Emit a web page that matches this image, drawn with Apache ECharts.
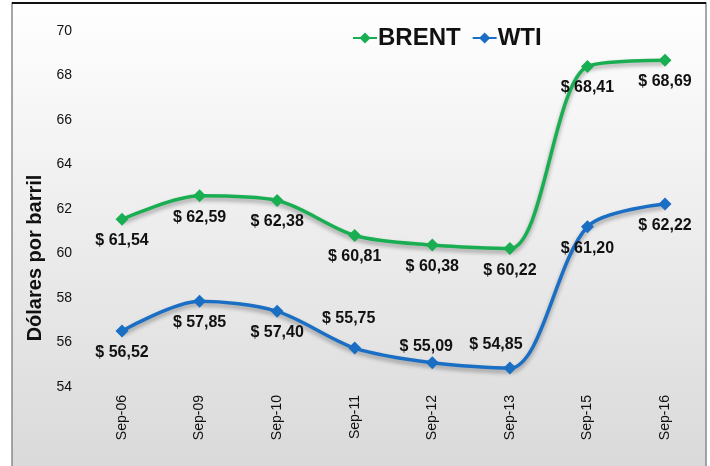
<!DOCTYPE html>
<html>
<head>
<meta charset="utf-8">
<script src="https://cdn.jsdelivr.net/npm/echarts@6/dist/echarts.min.js"></script>
<style>
  html, body { margin: 0; padding: 0; background: #fff; }
  #main { width: 710px; height: 466px; }
</style>
</head>
<body>
<div id="main"></div>
<script>
var categories = ["Sep-06", "Sep-09", "Sep-10", "Sep-11", "Sep-12", "Sep-13", "Sep-15", "Sep-16"];
var brent = [61.54, 62.59, 62.38, 60.81, 60.38, 60.22, 68.41, 68.69];
var wti = [56.52, 57.85, 57.40, 55.75, 55.09, 54.85, 61.20, 62.22];
var yTicks = [54, 56, 58, 60, 62, 64, 66, 68, 70];

// where each WTI label sits (Brent labels all go below)
var wtiLabelPos = [
  { position: "bottom" },
  { position: "bottom" },
  { position: "bottom" },
  { position: "top", offset: [-6, -8] },
  { position: "top", offset: [-6, 5] },
  { position: "top", offset: [-14, -2] },
  { position: "bottom" },
  { position: "bottom" }
];

var chart = echarts.init(document.getElementById("main"));

function fmt(p) {
  return "$ " + p.value.toFixed(2).replace(".", ",");
}

var labelStyle = {
  show: true,
  position: "bottom",
  distance: 7,
  formatter: fmt,
  color: "#111",
  fontFamily: "'Liberation Sans', Arial, sans-serif",
  fontWeight: "bold",
  fontSize: 16
};

function withLabels(values, places) {
  return values.map(function (v, i) {
    var item = { value: v };
    if (places && places[i]) {
      item.label = places[i];
    }
    return item;
  });
}

var option = {
  animation: false,
  graphic: [
    {
      type: "rect",
      z: -10,
      shape: { x: 12, y: 3, width: 694, height: 470 },
      style: {
        fill: new echarts.graphic.LinearGradient(0, 0, 0, 1, [
          { offset: 0, color: "#ffffff" },
          { offset: 1, color: "#d9d9d9" }
        ]),
        stroke: "#8a8a8a",
        lineWidth: 1.5
      }
    },
    {
      type: "line",
      z: -9,
      shape: { x1: 12, y1: 3, x2: 706, y2: 3 },
      style: { stroke: "#111", lineWidth: 2 }
    }
  ],
  grid: {
    left: 122,
    right: 45,
    top: 31,
    bottom: 79
  },
  legend: {
    left: 352,
    top: 26,
    padding: 0,
    itemWidth: 24,
    itemHeight: 14,
    itemGap: 11,
    textStyle: {
      fontFamily: "'Liberation Sans', Arial, sans-serif",
      fontWeight: "bold",
      fontSize: 24,
      color: "#111",
      padding: [0, 0, 0, -4]
    },
    data: ["BRENT", "WTI"]
  },
  xAxis: {
    type: "category",
    data: categories,
    boundaryGap: false,
    axisLine: { show: false },
    axisTick: { show: false },
    axisLabel: {
      rotate: 90,
      margin: 8,
      fontFamily: "'Liberation Sans', Arial, sans-serif",
      fontSize: 14,
      color: "#111"
    }
  },
  yAxis: {
    type: "value",
    min: yTicks[0],
    max: yTicks[yTicks.length - 1],
    interval: 2,
    name: "Dólares por barril",
    nameLocation: "middle",
    nameGap: 72,
    nameTextStyle: {
      fontFamily: "'Liberation Sans', Arial, sans-serif",
      fontWeight: "bold",
      fontSize: 20,
      color: "#111",
      padding: [0, 98, 0, 0]
    },
    splitLine: { show: false },
    axisLine: { show: false },
    axisTick: { show: false },
    axisLabel: {
      margin: 50,
      fontFamily: "'Liberation Sans', Arial, sans-serif",
      fontSize: 14,
      color: "#111"
    }
  },
  series: [
    {
      name: "BRENT",
      type: "line",
      smooth: 0.3,
      symbol: "diamond",
      symbolSize: 13,
      itemStyle: { color: "#1aae52" },
      lineStyle: {
        width: 3.5,
        color: "#1aae52",
        shadowColor: "rgba(0,0,0,0.35)",
        shadowBlur: 4,
        shadowOffsetY: 3
      },
      label: labelStyle,
      data: withLabels(brent)
    },
    {
      name: "WTI",
      type: "line",
      smooth: 0.3,
      symbol: "diamond",
      symbolSize: 13,
      itemStyle: { color: "#1a6ec4" },
      lineStyle: {
        width: 3.5,
        color: "#1a6ec4",
        shadowColor: "rgba(0,0,0,0.35)",
        shadowBlur: 4,
        shadowOffsetY: 3
      },
      label: labelStyle,
      data: withLabels(wti, wtiLabelPos)
    }
  ]
};

chart.setOption(option);
</script>
</body>
</html>
